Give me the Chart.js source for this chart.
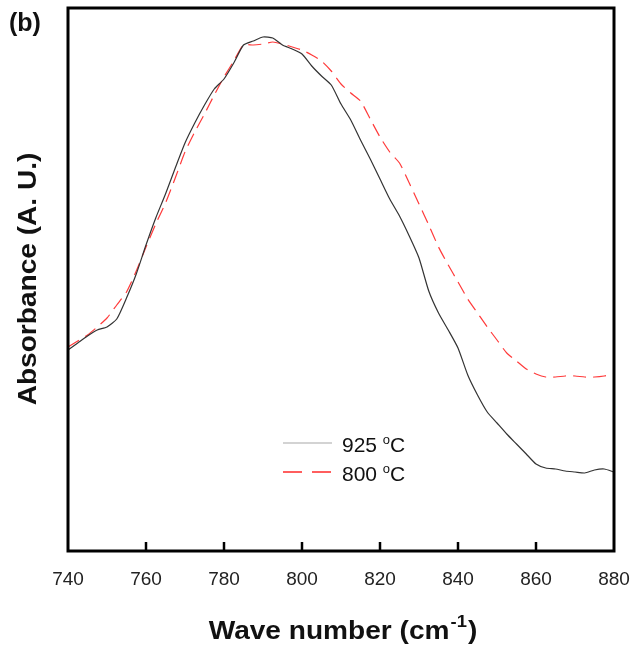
<!DOCTYPE html>
<html>
<head>
<meta charset="utf-8">
<script src="https://cdn.jsdelivr.net/npm/chart.js@4.4.1/dist/chart.umd.min.js"></script>
<style>
  html, body { margin: 0; padding: 0; background: #fff; }
  #wrap { width: 637px; height: 649px; position: relative; }
</style>
</head>
<body>
<div id="wrap"><canvas id="ftirChart" width="637" height="649"></canvas></div>
<script>
// wave numbers (cm-1), sampled every 2.5
const waveNumbers = [
  740, 742.5, 745, 747.5, 750, 752.5, 755, 757.5, 760, 762.5,
  765, 767.5, 770, 772.5, 775, 777.5, 780, 782.5, 785, 787.5,
  790, 792.5, 795, 797.5, 800, 802.5, 805, 807.5, 810, 812.5,
  815, 817.5, 820, 822.5, 825, 827.5, 830, 832.5, 835, 837.5,
  840, 842.5, 845, 847.5, 850, 852.5, 855, 857.5, 860, 862.5,
  865, 867.5, 870, 872.5, 875, 877.5, 880
];

// absorbance, arbitrary units
const abs925 = [
  201, 208, 215, 221, 224, 232, 253, 277, 306, 333,
  357, 383, 408, 428, 446, 462, 472, 488, 506, 510,
  514, 513, 506, 502, 497, 485, 475, 466, 447, 431,
  411, 392, 372, 352, 335, 315, 293, 260, 238, 221,
  203, 176, 156, 139, 128, 117, 107, 97, 87, 83,
  82, 80, 79, 78, 81, 82, 79
];

const abs800 = [
  204, 210, 216, 224, 233, 246, 259, 280, 304, 327,
  348, 373, 399, 419, 437, 456, 474, 490, 506, 506,
  507, 509, 507, 504, 501, 496, 490, 480, 467, 458,
  450, 432, 414, 399, 388, 368, 347, 326, 304, 286,
  269, 252, 238, 224, 211, 198, 190, 182, 177, 174,
  174, 175, 175, 174, 174, 175, 177
];

const xTicks = [740, 760, 780, 800, 820, 840, 860, 880];
const seriesNames = ['925', '800'];

const toPoints = (ys) => waveNumbers.map((x, i) => ({ x: x, y: ys[i] }));

const FONT = 'Arial, "Liberation Sans", sans-serif';

// frame, inward ticks, titles, legend and panel label
const decorations = {
  id: 'decorations',
  afterDraw(chart) {
    const ctx = chart.ctx;
    const area = chart.chartArea;
    const xs = chart.scales.x;
    ctx.save();

    // frame
    ctx.strokeStyle = '#000';
    ctx.lineWidth = 3;
    ctx.strokeRect(area.left, area.top, area.right - area.left, area.bottom - area.top);

    // ticks pointing inward
    ctx.lineWidth = 2.5;
    xTicks.slice(1, -1).forEach(v => {
      const px = Math.round(xs.getPixelForValue(v));
      ctx.beginPath();
      ctx.moveTo(px, area.bottom);
      ctx.lineTo(px, area.bottom - 9);
      ctx.stroke();
    });

    ctx.fillStyle = '#111';
    ctx.textBaseline = 'alphabetic';
    const stretch = 1.08;

    // x title with superscript
    const mainFont = 'bold 26px ' + FONT;
    const supFont = 'bold 17px ' + FONT;
    ctx.font = mainFont;
    const t1 = 'Wave number (cm';
    const t3 = ')';
    const w1 = ctx.measureText(t1).width;
    const w3 = ctx.measureText(t3).width;
    ctx.font = supFont;
    const t2 = '-1';
    const w2 = ctx.measureText(t2).width;
    const total = (w1 + w2 + w3 + 2) * stretch;
    ctx.save();
    ctx.translate(343 - total / 2, 639);
    ctx.scale(stretch, 1);
    ctx.textAlign = 'left';
    ctx.font = mainFont;
    ctx.fillText(t1, 0, 0);
    ctx.font = supFont;
    ctx.fillText(t2, w1 + 1, -12);
    ctx.font = mainFont;
    ctx.fillText(t3, w1 + w2 + 2, 0);
    ctx.restore();

    // y title
    ctx.save();
    ctx.translate(36, 279);
    ctx.rotate(-Math.PI / 2);
    ctx.scale(stretch, 1);
    ctx.textAlign = 'center';
    ctx.font = mainFont;
    ctx.fillText('Absorbance (A. U.)', 0, 0);
    ctx.restore();

    // panel label
    ctx.font = 'bold 25px ' + FONT;
    ctx.textAlign = 'left';
    ctx.fillText('(b)', 9, 31);

    // legend
    const legend = [
      { name: seriesNames[0], y: 443, color: '#c4c4c4', dash: [] },
      { name: seriesNames[1], y: 472, color: '#ff2a2a', dash: [19, 10] }
    ];
    legend.forEach(item => {
      ctx.strokeStyle = item.color;
      ctx.lineWidth = 1.5;
      ctx.setLineDash(item.dash);
      ctx.beginPath();
      ctx.moveTo(283, item.y);
      ctx.lineTo(332, item.y);
      ctx.stroke();
      ctx.setLineDash([]);
      ctx.fillStyle = '#111';
      ctx.font = '21px ' + FONT;
      const nm = item.name + ' ';
      ctx.fillText(nm, 342, item.y + 9);
      const wn = ctx.measureText(nm).width;
      ctx.font = '13px ' + FONT;
      ctx.fillText('o', 342 + wn, item.y + 1);
      const wo = ctx.measureText('o').width;
      ctx.font = '21px ' + FONT;
      ctx.fillText('C', 342 + wn + wo, item.y + 9);
    });

    ctx.restore();
  }
};

new Chart(document.getElementById('ftirChart').getContext('2d'), {
  type: 'line',
  data: {
    datasets: [
      {
        label: seriesNames[0] + ' °C',
        data: toPoints(abs925),
        borderColor: '#333',
        borderWidth: 1.2,
        pointRadius: 0,
        tension: 0.2,
        fill: false
      },
      {
        label: seriesNames[1] + ' °C',
        data: toPoints(abs800),
        borderColor: '#ff3a3a',
        borderWidth: 1.2,
        borderDash: [13, 7],
        pointRadius: 0,
        tension: 0.2,
        fill: false
      }
    ]
  },
  options: {
    responsive: false,
    animation: false,
    devicePixelRatio: 1,
    layout: { padding: { top: 8, right: 23, left: 0, bottom: 0 } },
    plugins: {
      legend: { display: false },
      tooltip: { enabled: false }
    },
    scales: {
      x: {
        type: 'linear',
        min: 740,
        max: 880,
        afterBuildTicks: (scale) => { scale.ticks = xTicks.map(v => ({ value: v })); },
        afterFit: (scale) => {
          scale.height = 98;
          scale.paddingLeft = 0;
          scale.paddingRight = 0;
        },
        grid: { display: false, drawTicks: false },
        border: { display: false },
        ticks: {
          padding: 17,
          color: '#222',
          font: { family: FONT, size: 19 },
          maxRotation: 0
        }
      },
      y: {
        min: 0,
        max: 543,
        afterFit: (scale) => { scale.width = 68; },
        grid: { display: false, drawTicks: false },
        border: { display: false },
        ticks: { display: false }
      }
    }
  },
  plugins: [decorations]
});
</script>
</body>
</html>
